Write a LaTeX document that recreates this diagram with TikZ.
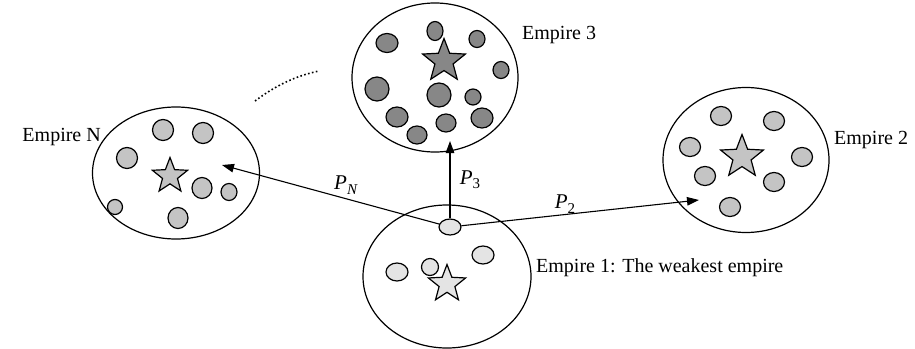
\documentclass[tikz,border=0pt]{standalone}
\usepackage{fontspec}
\setmainfont{Liberation Serif}
\usetikzlibrary{shapes.geometric,arrows.meta}
\definecolor{darkfill}{HTML}{878787}
\definecolor{midfill}{HTML}{C4C4C4}
\definecolor{lightfill}{HTML}{E4E4E4}
\begin{document}
\begin{tikzpicture}[x=1pt,y=-1pt,
  empire/.style n args={2}{draw,ellipse,line width=1.2pt,inner sep=0pt,minimum width=#1pt,minimum height=#2pt},
  blob/.style n args={2}{draw,ellipse,line width=1.2pt,inner sep=0pt,minimum width=#1pt,minimum height=#2pt},
  starn/.style={draw,star,star points=5,star point ratio=2.35,line width=1.2pt,inner sep=0pt,minimum size=#1pt},
  lbl/.style={font=\fontsize{20}{23}\selectfont,inner sep=0pt},
  plbl/.style={font=\fontsize{21}{24}\selectfont,inner sep=0pt},
  conn/.style={line width=1.1pt,-{Triangle[length=12pt,width=8.5pt]}},
  dots/.style={line width=1.6pt,dash pattern=on 1.6pt off 2.4pt}
]
\useasboundingbox (0,0) rectangle (915,348);

% Empire 3
\node[empire={166}{149}] (E3) at (435,77.5) {};
\begin{scope}[every node/.append style={fill=darkfill}]
\node[blob={16}{19}] (e3a) at (435,31) {};
\node[blob={22}{19}] (e3b) at (387,43) {};
\node[blob={16}{17}] (e3c) at (477,39) {};
\node[blob={16}{17}] (e3d) at (501,70) {};
\node[blob={24}{24}] (e3e) at (377,89) {};
\node[blob={24}{24}] (e3f) at (439,95) {};
\node[blob={16}{16}] (e3g) at (473,97) {};
\node[blob={22}{20}] (e3h) at (397,117) {};
\node[blob={20}{18}] (e3i) at (446,123) {};
\node[blob={22}{20}] (e3j) at (482,118) {};
\node[blob={20}{18}] (e3k) at (417,135) {};
\node[starn=45] (s3) at (444,61) {};
\end{scope}

% Empire N
\node[empire={167}{132}] (EN) at (176,173) {};
\begin{scope}[every node/.append style={fill=midfill}]
\node[blob={21}{21}] (ena) at (163,130) {};
\node[blob={21}{21}] (enb) at (203,133) {};
\node[blob={21}{21}] (enc) at (127,158) {};
\node[blob={20}{21}] (end) at (202,188) {};
\node[blob={16}{17}] (ene) at (229,192) {};
\node[blob={15}{15}] (enf) at (115,207) {};
\node[blob={20}{21}] (eng) at (178,218) {};
\node[starn=37] (sN) at (170,176) {};
\end{scope}

% Empire 2
\node[empire={166}{145}] (E2) at (746,160) {};
\begin{scope}[every node/.append style={fill=midfill}]
\node[blob={21}{19}] (e2a) at (721,116) {};
\node[blob={21}{19}] (e2b) at (774,121) {};
\node[blob={21}{19}] (e2c) at (690,147) {};
\node[blob={21}{19}] (e2d) at (802,157) {};
\node[blob={21}{19}] (e2e) at (705,176) {};
\node[blob={21}{19}] (e2f) at (774,182) {};
\node[blob={21}{19}] (e2g) at (730,207) {};
\node[starn=45] (s2) at (742,157) {};
\end{scope}

% Empire 1
\node[empire={168}{143}] (E1) at (447,276.5) {};
\begin{scope}[every node/.append style={fill=lightfill}]
\node[blob={22}{18}] (e1a) at (397,272) {};
\node[blob={17}{17}] (e1b) at (430,267) {};
\node[blob={22}{18}] (e1c) at (483,255) {};
\node[blob={22}{16}] (e1s) at (450,227) {};
\node[starn=39] (s1) at (447,284) {};
\end{scope}

% labels
\node[lbl,anchor=west] (l3) at (522,35) {Empire 3};
\node[lbl,anchor=west] (l2) at (834,140) {Empire 2};
\node[lbl,anchor=east] (lN) at (101,137) {Empire N};
\node[lbl,anchor=west] (l1) at (536,268) {Empire 1: The weakest empire};

% connectors
\coordinate (tN) at (222,165);
\coordinate (t3) at (450,141);
\coordinate (t2) at (699,200);
\draw[conn] (e1s) -- (tN);
\draw[conn] (e1s) -- (t3);
\draw[conn] (e1s) -- (t2);

\node[plbl] (pN) at (346,185) {\textit{P}\raisebox{-0.45ex}{\fontsize{15}{17}\selectfont\textit{N}}};
\node[plbl] (p3) at (470,180) {\textit{P}\raisebox{-0.45ex}{\fontsize{15}{17}\selectfont 3}};
\node[plbl] (p2) at (565,204) {\textit{P}\raisebox{-0.45ex}{\fontsize{15}{17}\selectfont 2}};

% dotted arc
\coordinate (d1) at (255,101);
\coordinate (d2) at (319,71);
\draw[dots] (d1) .. controls (275,86) and (295,76) .. (d2);
\end{tikzpicture}
\end{document}
